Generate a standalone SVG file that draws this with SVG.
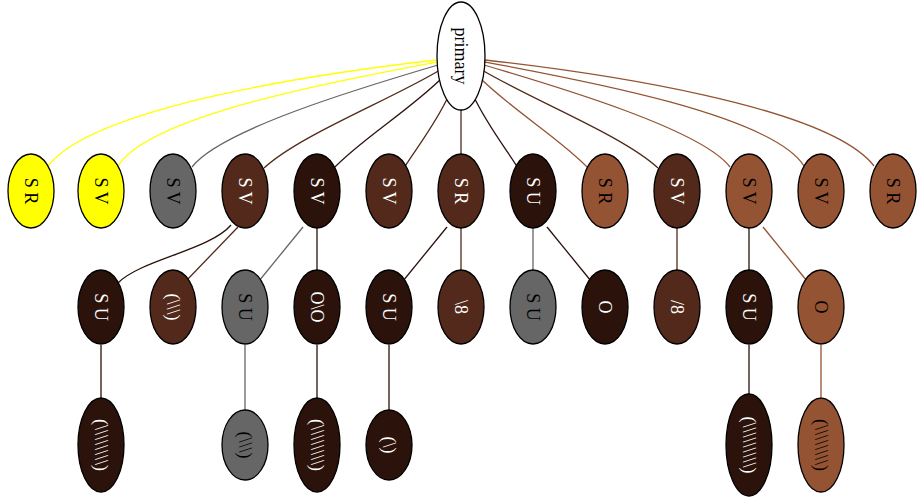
<svg xmlns="http://www.w3.org/2000/svg" width="923" height="502" viewBox="0 0 923 502">
<style>
.n ellipse{stroke:#000;stroke-width:1.3}
.n text{font-family:"Liberation Serif","Times New Roman",serif;font-size:18px;text-anchor:middle;dominant-baseline:central}
.y{fill:#ffff00}.g{fill:#666666}.b{fill:#52291a}.d{fill:#2b120b}.s{fill:#945333}
.tw{fill:#ffffff}.tk{fill:#000000}
#edges path{fill:none;stroke-width:1.3}
</style>
<rect width="923" height="502" fill="#fff"/>
<g id="edges">
<path d="M437,60 C330,72 95,105 48,166" stroke="#ffff00"/>
<path d="M437,62 C340,80 150,115 118,166" stroke="#ffff00"/>
<path d="M438,65 C360,88 220,130 192,167" stroke="#666666"/>
<path d="M440,70 C390,100 300,135 264,168" stroke="#52291a"/>
<path d="M443,77 C410,110 360,140 333,169" stroke="#2b120b"/>
<path d="M449,95 C435,125 415,150 404,168" stroke="#52291a"/>
<path d="M461,110 L461,154" stroke="#52291a"/>
<path d="M473,95 C487,125 507,150 518,168" stroke="#2b120b"/>
<path d="M479,77 C512,110 562,140 589,169" stroke="#945333"/>
<path d="M482,70 C532,100 622,135 658,168" stroke="#52291a"/>
<path d="M484,65 C562,88 702,130 730,167" stroke="#945333"/>
<path d="M485,62 C582,80 772,115 804,166" stroke="#945333"/>
<path d="M485,60 C592,72 827,105 874,166" stroke="#945333"/>
<path d="M231,225 C210,250 140,260 118,283" stroke="#2b120b"/>
<path d="M238,227 L186,281" stroke="#52291a"/>
<path d="M303,227 L259,281" stroke="#666666"/>
<path d="M317,228 L317,270" stroke="#2b120b"/>
<path d="M447,227 L403,281" stroke="#2b120b"/>
<path d="M461,228 L461,270" stroke="#52291a"/>
<path d="M533,228 L533,270" stroke="#666666"/>
<path d="M547,227 L591,281" stroke="#2b120b"/>
<path d="M677,228 L677,270" stroke="#52291a"/>
<path d="M749,228 L749,270" stroke="#2b120b"/>
<path d="M763,227 L807,281" stroke="#945333"/>
<path d="M101,345 L101,398" stroke="#2b120b"/>
<path d="M245,345 L245,410" stroke="#666666"/>
<path d="M317,345 L317,398" stroke="#2b120b"/>
<path d="M389,345 L389,410" stroke="#2b120b"/>
<path d="M749,345 L749,394" stroke="#2b120b"/>
<path d="M821,345 L821,397" stroke="#945333"/>
</g>
<g id="primary" class="n"><ellipse cx="461" cy="56" rx="24" ry="54" fill="#fff"/><text class="tk" x="461" y="56" transform="rotate(90 461 56)">primary</text></g>
<g id="n1" class="n"><ellipse class="y" cx="31" cy="191" rx="23" ry="37"/><text class="tk" x="31" y="191" transform="rotate(90 31 191)">S R</text></g>
<g id="n2" class="n"><ellipse class="y" cx="101" cy="191" rx="23" ry="37"/><text class="tk" x="101" y="191" transform="rotate(90 101 191)">S V</text></g>
<g id="n3" class="n"><ellipse class="g" cx="173" cy="191" rx="23" ry="37"/><text class="tk" x="173" y="191" transform="rotate(90 173 191)">S V</text></g>
<g id="n4" class="n"><ellipse class="b" cx="245" cy="191" rx="23" ry="37"/><text class="tw" x="245" y="191" transform="rotate(90 245 191)">S V</text></g>
<g id="n5" class="n"><ellipse class="d" cx="317" cy="191" rx="23" ry="37"/><text class="tw" x="317" y="191" transform="rotate(90 317 191)">S V</text></g>
<g id="n6" class="n"><ellipse class="b" cx="389" cy="191" rx="23" ry="37"/><text class="tw" x="389" y="191" transform="rotate(90 389 191)">S V</text></g>
<g id="n7" class="n"><ellipse class="b" cx="461" cy="191" rx="23" ry="37"/><text class="tw" x="461" y="191" transform="rotate(90 461 191)">S R</text></g>
<g id="n8" class="n"><ellipse class="d" cx="533" cy="191" rx="23" ry="37"/><text class="tw" x="533" y="191" transform="rotate(90 533 191)">S U</text></g>
<g id="n9" class="n"><ellipse class="s" cx="605" cy="191" rx="23" ry="37"/><text class="tk" x="605" y="191" transform="rotate(90 605 191)">S R</text></g>
<g id="n10" class="n"><ellipse class="b" cx="677" cy="191" rx="23" ry="37"/><text class="tw" x="677" y="191" transform="rotate(90 677 191)">S V</text></g>
<g id="n11" class="n"><ellipse class="s" cx="749" cy="191" rx="23" ry="37"/><text class="tk" x="749" y="191" transform="rotate(90 749 191)">S V</text></g>
<g id="n12" class="n"><ellipse class="s" cx="821" cy="191" rx="23" ry="37"/><text class="tk" x="821" y="191" transform="rotate(90 821 191)">S V</text></g>
<g id="n13" class="n"><ellipse class="s" cx="893" cy="191" rx="23" ry="37"/><text class="tk" x="893" y="191" transform="rotate(90 893 191)">S R</text></g>
<g id="m1" class="n"><ellipse class="d" cx="101" cy="307" rx="23" ry="37"/><text class="tw" x="101" y="307" transform="rotate(90 101 307)">S U</text></g>
<g id="m2" class="n"><ellipse class="b" cx="173" cy="307" rx="23" ry="37"/><text class="tw" x="173" y="307" transform="rotate(90 173 307)">(\\\)</text></g>
<g id="m3" class="n"><ellipse class="g" cx="245" cy="307" rx="23" ry="37"/><text class="tk" x="245" y="307" transform="rotate(90 245 307)">S U</text></g>
<g id="m4" class="n"><ellipse class="d" cx="317" cy="307" rx="23" ry="37"/><text class="tw" x="317" y="307" transform="rotate(90 317 307)">O\O</text></g>
<g id="m5" class="n"><ellipse class="d" cx="389" cy="307" rx="23" ry="37"/><text class="tw" x="389" y="307" transform="rotate(90 389 307)">S U</text></g>
<g id="m6" class="n"><ellipse class="b" cx="461" cy="307" rx="23" ry="37"/><text class="tw" x="461" y="307" transform="rotate(90 461 307)">\8</text></g>
<g id="m7" class="n"><ellipse class="g" cx="533" cy="307" rx="23" ry="37"/><text class="tk" x="533" y="307" transform="rotate(90 533 307)">S U</text></g>
<g id="m8" class="n"><ellipse class="d" cx="605" cy="307" rx="23" ry="37"/><text class="tw" x="605" y="307" transform="rotate(90 605 307)">O</text></g>
<g id="m9" class="n"><ellipse class="b" cx="677" cy="307" rx="23" ry="37"/><text class="tw" x="677" y="307" transform="rotate(90 677 307)">/8</text></g>
<g id="m10" class="n"><ellipse class="d" cx="749" cy="307" rx="23" ry="37"/><text class="tw" x="749" y="307" transform="rotate(90 749 307)">S U</text></g>
<g id="m11" class="n"><ellipse class="s" cx="821" cy="307" rx="23" ry="37"/><text class="tk" x="821" y="307" transform="rotate(90 821 307)">O</text></g>
<g id="l1" class="n"><ellipse class="d" cx="101" cy="445" rx="23" ry="47"/><text class="tw" x="101" y="445" transform="rotate(90 101 445)">(\\\\\\\\)</text></g>
<g id="l2" class="n"><ellipse class="g" cx="245" cy="445" rx="23" ry="35"/><text class="tk" x="245" y="445" transform="rotate(90 245 445)">(\\\)</text></g>
<g id="l3" class="n"><ellipse class="d" cx="317" cy="445" rx="23" ry="47"/><text class="tw" x="317" y="445" transform="rotate(90 317 445)">(\\\\\\\\)</text></g>
<g id="l4" class="n"><ellipse class="d" cx="389" cy="445" rx="23" ry="35"/><text class="tw" x="389" y="445" transform="rotate(90 389 445)">(\)</text></g>
<g id="l5" class="n"><ellipse class="d" cx="749" cy="445" rx="23" ry="51"/><text class="tw" x="749" y="445" transform="rotate(90 749 445)">(\\\\\\\\\)</text></g>
<g id="l6" class="n"><ellipse class="s" cx="821" cy="445" rx="23" ry="47"/><text class="tk" x="821" y="445" transform="rotate(90 821 445)">(\\\\\\\\)</text></g>
</svg>
